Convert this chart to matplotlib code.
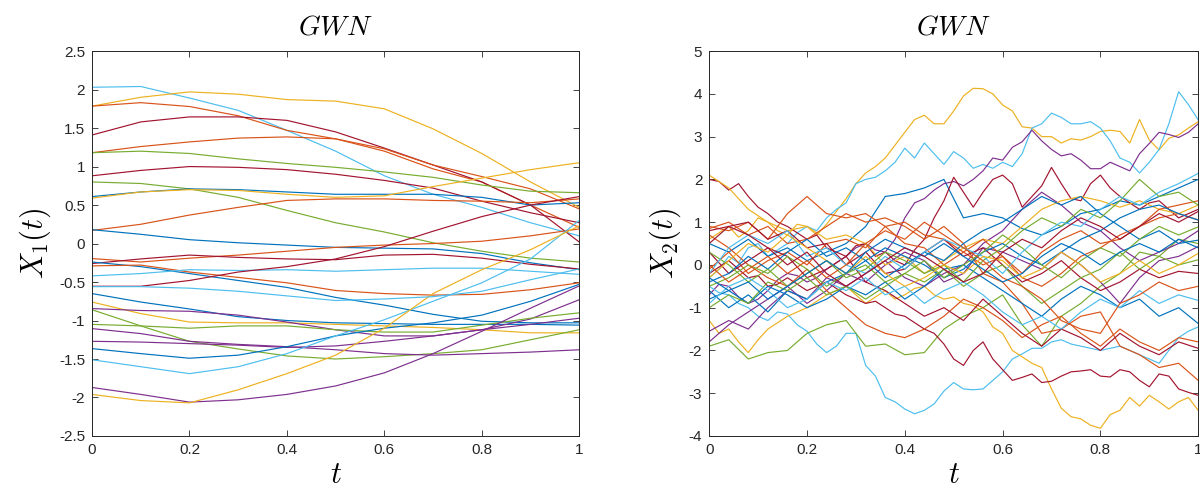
import numpy as np
import matplotlib
matplotlib.use("Agg")
import matplotlib.pyplot as plt

plt.rcParams['font.family'] = ['Liberation Sans', 'DejaVu Sans']
plt.rcParams['mathtext.fontset'] = 'cm'
plt.rcParams['axes.unicode_minus'] = False

# MATLAB default line colours
c_bl = '#0072BD'
c_or = '#D95319'
c_ye = '#EDB120'
c_pu = '#7E2F8E'
c_gr = '#77AC30'
c_cy = '#4DBEEE'
c_dr = '#A2142F'

# ---- left panel: X1(t), read at t = 0, 0.1, ..., 1
t1 = [0.0, 0.1, 0.2, 0.3, 0.4, 0.5, 0.6, 0.7, 0.8, 0.9, 1.0]
l01 = [2.03, 2.04, 1.89, 1.73, 1.47, 1.2, 0.88, 0.64, 0.47, 0.27, 0.1]
l02 = [1.785, 1.9, 1.97, 1.94, 1.87, 1.85, 1.75, 1.49, 1.17, 0.8, 0.47]
l03 = [1.785, 1.83, 1.78, 1.66, 1.47, 1.36, 1.2, 0.97, 0.8, 0.5, 0.21]
l04 = [1.41, 1.58, 1.645, 1.645, 1.6, 1.45, 1.24, 1.02, 0.8, 0.5, 0.02]
l05 = [1.18, 1.26, 1.32, 1.37, 1.385, 1.36, 1.23, 1.02, 0.87, 0.71, 0.45]
l06 = [1.18, 1.2, 1.17, 1.1, 1.04, 0.99, 0.93, 0.86, 0.76, 0.68, 0.66]
l07 = [0.88, 0.95, 1.0, 0.99, 0.96, 0.9, 0.82, 0.72, 0.55, 0.4, 0.27]
l08 = [0.8, 0.78, 0.71, 0.6, 0.43, 0.27, 0.15, 0.01, -0.1, -0.19, -0.24]
l09 = [0.61, 0.67, 0.71, 0.7, 0.67, 0.64, 0.64, 0.64, 0.6, 0.5, 0.53]
l10 = [0.59, 0.67, 0.7, 0.69, 0.64, 0.6, 0.62, 0.74, 0.85, 0.96, 1.05]
l11 = [0.17, 0.25, 0.37, 0.47, 0.56, 0.58, 0.58, 0.56, 0.55, 0.53, 0.58]
l12 = [0.18, 0.12, 0.05, 0.01, -0.02, -0.05, -0.06, -0.07, -0.13, -0.25, -0.34]
l13 = [-0.195, -0.24, -0.19, -0.15, -0.1, -0.05, -0.02, 0.0, 0.03, 0.1, 0.19]
l14 = [-0.26, -0.2, -0.15, -0.18, -0.2, -0.21, -0.15, -0.14, -0.19, -0.27, -0.33]
l15 = [-0.24, -0.3, -0.39, -0.48, -0.57, -0.7, -0.8, -0.92, -1.01, -1.03, -1.03]
l16 = [-0.29, -0.28, -0.37, -0.44, -0.51, -0.61, -0.65, -0.67, -0.66, -0.6, -0.51]
l17 = [-0.42, -0.39, -0.34, -0.35, -0.34, -0.36, -0.34, -0.32, -0.32, -0.36, -0.4]
l18 = [-0.555, -0.555, -0.48, -0.37, -0.3, -0.2, -0.04, 0.16, 0.35, 0.5, 0.61]
l19 = [-0.65, -0.76, -0.85, -0.95, -1.0, -1.03, -1.04, -1.05, -1.05, -1.05, -1.06]
l20 = [-0.76, -0.91, -1.02, -1.03, -1.03, -1.05, -1.07, -1.09, -1.12, -1.16, -1.16]
l21 = [-0.845, -0.87, -0.88, -0.93, -1.02, -1.12, -1.2, -1.2, -1.12, -0.98, -0.73]
l22 = [-0.86, -1.07, -1.27, -1.37, -1.46, -1.5, -1.47, -1.43, -1.38, -1.25, -1.12]
l23 = [-1.05, -1.07, -1.1, -1.07, -1.07, -1.12, -1.15, -1.15, -1.06, -0.97, -0.9]
l24 = [-1.105, -1.17, -1.27, -1.31, -1.34, -1.38, -1.43, -1.45, -1.43, -1.41, -1.38]
l25 = [-1.27, -1.28, -1.3, -1.32, -1.35, -1.33, -1.27, -1.2, -1.12, -1.05, -0.97]
l26 = [-1.365, -1.43, -1.49, -1.45, -1.34, -1.2, -1.1, -1.03, -0.93, -0.75, -0.53]
l27 = [-1.51, -1.6, -1.69, -1.6, -1.43, -1.2, -0.99, -0.75, -0.51, -0.2, 0.3]
l28 = [-1.87, -1.96, -2.06, -2.03, -1.96, -1.85, -1.68, -1.43, -1.14, -0.84, -0.55]
l29 = [-1.96, -2.04, -2.07, -1.9, -1.69, -1.45, -1.1, -0.65, -0.34, -0.08, 0.23]
l30 = [-0.56, -0.56, -0.58, -0.62, -0.68, -0.74, -0.72, -0.69, -0.62, -0.47, -0.33]

left_paths = [l01, l02, l03, l04, l05, l06, l07, l08, l09, l10,
              l11, l12, l13, l14, l15, l16, l17, l18, l19, l20,
              l21, l22, l23, l24, l25, l26, l27, l28, l29, l30]
left_colors = [c_cy, c_ye, c_or, c_dr, c_or, c_gr, c_dr, c_gr, c_bl, c_ye,
               c_or, c_bl, c_or, c_dr, c_bl, c_or, c_cy, c_dr, c_bl, c_ye,
               c_pu, c_gr, c_gr, c_pu, c_pu, c_bl, c_cy, c_pu, c_ye, c_cy]

# ---- right panel: X2(t)
# outer paths read every 0.02
t2f = np.linspace(0, 1, 51)
r01 = [0.6, 0.75, 0.9, 0.65, 0.8, 1.1, 1.0, 0.8, 0.7, 0.95,
       0.9, 0.7, 0.95, 1.25, 1.55, 1.9, 2.15, 2.3, 2.5, 2.8,
       3.1, 3.4, 3.5, 3.3, 3.3, 3.6, 3.95, 4.13, 4.12, 4.0,
       3.74, 3.6, 3.23, 3.2, 3.0, 3.0, 2.85, 2.95, 2.92, 3.0,
       3.12, 3.15, 3.12, 2.85, 3.4, 2.92, 2.69, 2.96, 3.04, 3.2,
       3.35]
r02 = [-0.3, -0.1, 0.2, 0.05, 0.4, 0.5, 0.2, 0.35, 0.5, 0.75,
       0.9, 0.8, 1.1, 1.3, 1.45, 1.9, 2.0, 2.05, 2.2, 2.4,
       2.73, 2.5, 2.85, 2.6, 2.35, 2.65, 2.5, 2.26, 2.35, 2.26,
       2.4, 2.3, 2.6, 3.2, 3.3, 3.55, 3.45, 3.3, 3.3, 3.35,
       3.2, 2.9, 2.5, 2.4, 2.15, 2.4, 2.7, 3.3, 4.05, 3.75,
       3.39]
r04 = [-0.7, -0.45, -0.5, -0.75, -0.9, -0.8, -0.6, -0.35, -0.2, -0.25,
       -0.4, -0.3, -0.1, 0.05, 0.2, 0.4, 0.5, 0.35, 0.3, 0.6,
       1.1, 1.45, 1.55, 1.75, 1.9, 1.95, 1.85, 2.0, 2.2, 2.5,
       2.45, 2.75, 2.88, 3.15, 2.9, 2.7, 2.55, 2.6, 2.45, 2.25,
       2.25, 2.4, 2.3, 2.2, 2.6, 2.84, 3.1, 3.05, 2.98, 3.1,
       3.3]
r05 = [2.0, 1.95, 1.75, 1.9, 1.6, 1.35, 1.2, 1.0, 0.9, 0.75,
       0.6, 0.7, 0.4, 0.3, 0.2, 0.45, 0.5, 0.2, 0.3, 0.1,
       0.0, 0.35, 0.6, 1.1, 1.5, 2.05, 1.7, 1.35, 1.7, 2.0,
       2.1, 1.9, 1.35, 1.6, 1.85, 2.28, 1.9, 1.55, 1.5, 1.9,
       2.1, 1.8, 1.6, 1.45, 1.3, 1.45, 1.5, 1.3, 1.1, 1.2,
       1.3]
r06 = [-0.5, -0.65, -0.7, -0.9, -1.0, -1.2, -1.3, -1.1, -1.15, -1.4,
       -1.55, -1.85, -2.05, -1.9, -1.6, -1.6, -2.35, -2.6, -3.1, -3.2,
       -3.37, -3.48, -3.4, -3.25, -2.95, -2.75, -2.9, -2.92, -2.9, -2.7,
       -2.5, -2.2, -2.08, -1.95, -1.95, -1.8, -1.75, -1.85, -1.9, -1.95,
       -2.0, -1.95, -1.9, -2.0, -2.1, -2.2, -2.3, -2.0, -1.7, -1.55,
       -1.45]
r07 = [-1.3, -1.6, -1.5, -1.8, -2.05, -1.75, -1.5, -1.35, -1.2, -1.1,
       -1.0, -0.85, -0.7, -0.6, -0.5, -0.7, -0.9, -0.75, -0.6, -0.8,
       -0.7, -0.55, -0.5, -0.7, -0.8, -0.75, -0.9, -0.95, -1.1, -1.45,
       -1.6, -2.0, -2.15, -2.3, -2.4, -2.9, -3.35, -3.55, -3.6, -3.75,
       -3.82, -3.5, -3.4, -3.1, -3.3, -3.05, -3.2, -3.37, -3.2, -3.1,
       -3.4]
r09 = [-0.2, -0.05, 0.1, -0.1, -0.3, -0.25, -0.5, -0.45, -0.3, -0.45,
       -0.6, -0.5, -0.4, -0.55, -0.7, -0.8, -0.9, -0.85, -1.0, -1.15,
       -1.2, -1.35, -1.5, -1.6, -1.85, -2.2, -2.35, -2.0, -1.8, -2.2,
       -2.45, -2.7, -2.63, -2.55, -2.75, -2.72, -2.6, -2.5, -2.48, -2.45,
       -2.6, -2.62, -2.45, -2.5, -2.7, -2.85, -2.55, -2.6, -2.9, -2.98,
       -3.05]

# paths inside the bundle read every 0.04
t2 = [0.0, 0.04, 0.08, 0.12, 0.16, 0.2, 0.24, 0.28, 0.32, 0.36, 0.4, 0.44, 0.48,
      0.52, 0.56, 0.6, 0.64, 0.68, 0.72, 0.76, 0.8, 0.84, 0.88, 0.92, 0.96, 1.0]
r03 = [0.5, 0.3, 0.6, 0.2, 0.4, 0.1, 0.3, 0.5, 0.9, 1.6, 1.67, 1.8, 2.0,
       1.1, 1.2, 1.1, 0.85, 0.7, 0.9, 1.2, 1.3, 1.5, 1.4, 1.6, 1.8, 2.0]
r08 = [-1.9, -1.75, -2.2, -2.05, -2.0, -1.6, -1.4, -1.3, -1.9, -1.85, -2.1, -2.05, -1.5,
       -1.2, -1.0, -0.7, -1.4, -1.9, -1.2, -0.9, -0.5, -0.2, 0.3, 0.2, 0.6, 0.5]
r10 = [-1.55, -1.3, -1.5, -1.0, -0.6, -0.8, -0.3, -0.5, -0.2, 0.1, -0.3, -0.5, -0.2,
       0.0, 0.5, 0.8, 1.3, 1.7, 1.4, 1.0, 0.8, 0.4, 0.1, 0.3, 0.5, 0.8]
r11 = [-1.8, -1.4, -1.1, -0.8, -0.5, -0.9, -0.6, -0.2, -0.4, 0.0, 0.3, 0.1, -0.4,
       -0.2, 0.4, 0.3, 0.1, -0.1, 0.3, 0.0, -0.4, -0.9, -0.3, 0.1, 0.2, 0.43]
r12 = [2.1, 1.8, 1.3, 1.0, 0.8, 0.9, 0.6, 0.7, 0.5, 0.0, 0.2, -0.2, 0.1,
       0.4, 0.6, 0.5, 0.9, 1.3, 1.5, 1.6, 1.5, 1.35, 1.5, 1.3, 1.2, 1.4]
r13 = [0.9, 0.8, 1.0, 0.6, 1.2, 1.6, 1.2, 1.1, 1.2, 0.9, 0.5, 0.4, 0.0,
       0.3, 0.6, 0.2, -0.3, -0.5, -0.2, 0.2, 0.4, 0.7, 0.9, 1.3, 1.4, 1.5]
r14 = [0.85, 1.0, 0.7, 0.9, 0.5, 0.6, 0.9, 1.2, 1.0, 1.1, 0.9, 0.6, 0.9,
       0.5, -0.2, -0.4, -0.9, -1.6, -1.5, -1.2, -1.1, -1.9, -2.1, -2.4, -2.3, -2.7]
r15 = [0.7, 0.4, 0.0, -0.3, -0.5, -0.1, -0.6, -1.0, -1.4, -1.6, -1.7, -1.5, -1.2,
       -0.8, -1.0, -1.3, -1.7, -1.4, -1.2, -1.6, -1.9, -1.5, -1.8, -2.0, -1.7, -1.8]
r16 = [-0.1, 0.3, -0.2, 0.1, 0.3, 0.0, 0.5, 0.6, 0.4, 0.9, 1.0, 0.7, 0.6,
       0.3, 0.0, 0.2, -0.2, 0.3, 0.6, 0.8, 0.5, 0.6, 0.9, 1.1, 1.2, 1.05]
r17 = [0.8, 0.9, 1.0, 0.6, 0.8, 0.4, 0.5, 0.0, 0.3, -0.2, -0.1, 0.3, 0.6,
       0.2, 0.4, 0.0, -0.4, -0.2, 0.1, -0.3, -0.6, -0.4, -0.1, -0.3, -0.15, -0.2]
r18 = [0.3, -0.2, 0.1, 0.4, 0.2, -0.3, -0.1, 0.2, -0.4, -0.6, -0.9, -1.2, -1.0,
       -1.3, -0.8, -1.2, -1.6, -1.9, -1.5, -1.7, -2.0, -1.6, -1.9, -2.1, -1.8, -1.95]
r19 = [-0.4, -0.2, 0.2, -0.1, 0.3, 0.6, 0.2, 0.4, 0.1, -0.3, 0.0, 0.3, 0.1,
       0.5, 0.8, 1.0, 1.3, 1.6, 1.4, 1.6, 1.2, 0.9, 0.6, 0.8, 0.5, 0.58]
r20 = [-0.8, -0.6, -0.9, -0.5, -0.7, -1.0, -0.8, -0.5, -0.7, -0.4, -0.8, -0.5, -0.1,
       0.0, -0.3, -0.6, -0.9, -1.2, -0.8, -0.5, -0.7, -1.0, -0.8, -1.2, -1.0, -1.37]
r21 = [-0.6, -1.0, -0.7, -1.1, -0.6, -0.8, -0.4, -0.2, 0.1, 0.4, 0.2, 0.0, -0.3,
       -0.1, 0.3, 0.5, 0.2, 0.0, 0.3, 0.6, 0.8, 1.1, 1.3, 1.4, 1.2, 1.05]
r22 = [0.3, 0.0, -0.4, -0.1, -0.5, -0.2, 0.1, -0.3, -0.1, 0.3, 0.1, -0.2, 0.0,
       -0.4, 0.1, 0.4, 0.8, 1.1, 0.9, 1.3, 1.1, 1.5, 2.0, 1.6, 1.7, 1.4]
r23 = [-0.5, -0.3, 0.0, -0.2, 0.2, -0.1, -0.5, -0.2, 0.0, -0.4, -0.2, 0.1, -0.3,
       0.0, 0.3, 0.7, 0.4, 0.0, -0.3, 0.1, 0.4, 0.2, 0.6, 0.9, 0.7, 0.89]
r24 = [-1.0, -0.7, -0.9, -0.4, -0.6, -0.3, -0.7, -0.5, -0.8, -0.5, -0.2, -0.4, -0.1,
       -0.5, -0.2, 0.0, -0.5, -0.9, -0.6, -0.3, -0.1, 0.3, -0.1, 0.2, 0.0, 0.12]
r25 = [-0.2, 0.4, 0.7, 0.5, 0.8, 0.2, 0.4, 0.0, -0.2, 0.2, -0.1, 0.3, 0.6,
       0.4, 0.2, -0.2, 0.3, 0.7, 1.0, 0.9, 1.3, 1.6, 1.4, 1.7, 1.9, 2.14]
r26 = [-0.9, -0.5, -0.3, -0.6, -1.0, -0.8, -0.4, -0.6, -0.3, -0.7, -0.5, -0.9, -0.6,
       -0.4, -0.7, -1.1, -1.4, -1.2, -1.5, -1.1, -0.8, -1.0, -0.6, -0.9, -0.7, -0.83]
r27 = [-0.3, 0.1, 0.5, 0.3, 0.7, 0.4, 0.1, -0.2, 0.2, -0.2, -0.5, -0.3, 0.0,
       -0.2, 0.2, 0.1, -0.3, -0.1, 0.3, 0.0, -0.4, -0.2, 0.1, -0.2, 0.0, 0.27]
r28 = [0.0, -0.4, -0.1, 0.2, -0.2, 0.1, -0.3, 0.0, 0.5, 0.8, 0.6, 1.0, 0.7,
       0.4, 0.1, -0.3, -0.5, -0.8, -1.3, -1.5, -1.6, -0.9, -0.7, -0.4, -0.6, -0.5]
r29 = [-0.3, -0.6, -0.4, -0.8, -0.5, -0.2, 0.1, -0.2, 0.3, 0.6, 0.4, 0.2, 0.5,
       0.2, -0.1, -0.4, -0.2, 0.2, 0.5, 0.3, 0.0, 0.3, 0.5, 0.3, 0.6, 0.4]
r30 = [0.5, 0.9, 0.7, 0.4, 0.0, 0.3, -0.2, -0.5, -0.2, 0.1, 0.4, 0.2, -0.1,
       -0.4, -0.2, 0.3, 0.6, 0.4, 0.8, 1.1, 0.9, 0.6, 0.9, 1.2, 1.0, 1.25]

right_paths = [(t2f, r01, c_ye), (t2f, r02, c_cy), (t2, r03, c_bl), (t2f, r04, c_pu),
               (t2f, r05, c_dr), (t2f, r06, c_cy), (t2f, r07, c_ye), (t2, r08, c_gr),
               (t2f, r09, c_dr), (t2, r10, c_pu), (t2, r11, c_pu), (t2, r12, c_ye),
               (t2, r13, c_or), (t2, r14, c_or), (t2, r15, c_or), (t2, r16, c_or),
               (t2, r17, c_dr), (t2, r18, c_dr), (t2, r19, c_bl), (t2, r20, c_bl),
               (t2, r21, c_bl), (t2, r22, c_gr), (t2, r23, c_gr), (t2, r24, c_gr),
               (t2, r25, c_cy), (t2, r26, c_cy), (t2, r27, c_ye), (t2, r28, c_or),
               (t2, r29, c_bl), (t2, r30, c_dr)]

x_ticks = [0, 0.2, 0.4, 0.6, 0.8, 1]
y1_ticks = [-2.5, -2, -1.5, -1, -0.5, 0, 0.5, 1, 1.5, 2, 2.5]
y2_ticks = [-4, -3, -2, -1, 0, 1, 2, 3, 4, 5]

fig = plt.figure(figsize=(12, 4.96), dpi=100)
ax1 = fig.add_axes([0.0767, 0.121, 0.406, 0.776])
ax2 = fig.add_axes([0.591, 0.121, 0.4075, 0.776])

for p, c in zip(left_paths, left_colors):
    ax1.plot(t1, p, color=c, lw=0.85)
for tt, p, c in right_paths:
    ax2.plot(tt, p, color=c, lw=0.85)


def style(ax, yticks, ylab):
    ax.set_xlim(0, 1)
    ax.set_ylim(yticks[0], yticks[-1])
    ax.set_xticks(x_ticks)
    ax.set_xticklabels(['%g' % v for v in x_ticks])
    ax.set_yticks(yticks)
    ax.set_yticklabels(['%g' % v for v in yticks])
    ax.tick_params(direction='in', length=4, width=0.6, colors='#262626',
                   labelsize=11, top=True, right=True, pad=5)
    for s in ax.spines.values():
        s.set_color('#262626')
        s.set_linewidth(0.7)
    ax.set_title(r'$GWN$', fontsize=20, pad=12)
    ax.set_xlabel(r'$t$', fontsize=22, labelpad=2)
    ax.set_ylabel(ylab, fontsize=22, labelpad=4)


style(ax1, y1_ticks, r'$X_1(t)$')
style(ax2, y2_ticks, r'$X_2(t)$')

fig.savefig('out.png', dpi=100)
